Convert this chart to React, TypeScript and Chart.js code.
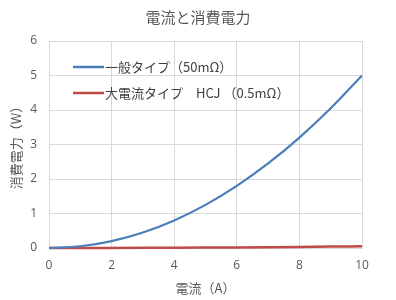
import React, { useEffect, useRef } from "react";
import { Chart, registerables } from "chart.js";
Chart.register(...registerables);

const currents = [0, 1, 2, 3, 4, 5, 6, 7, 8, 9, 10];
const generalType = [0, 0.05, 0.2, 0.45, 0.8, 1.25, 1.8, 2.45, 3.2, 4.05, 5.0];
const hcjType = [0, 0.0005, 0.002, 0.0045, 0.008, 0.0125, 0.018, 0.0245, 0.032, 0.0405, 0.05];
const seriesNames = ["一般タイプ（50mΩ）", "大電流タイプ　HCJ （0.5mΩ）"];
const titleText = "電流と消費電力";
const xTitle = "電流（A）";
const yTitle = "消費電力（W）";

const JP = "'Noto Sans CJK JP', 'Noto Sans', sans-serif";
const NUM = "'Open Sans', 'Noto Sans', sans-serif";

export default function App() {
  const ref = useRef<HTMLCanvasElement>(null);
  useEffect(() => {
    if (!ref.current) return;
    const colors = ["#4a7ebb", "#be4b48"];
    const overlay = {
      id: "overlay",
      afterDraw(chart: any) {
        const ctx = chart.ctx;
        const a = chart.chartArea;
        ctx.save();
        ctx.fillStyle = "#595959";
        ctx.textAlign = "center";
        ctx.textBaseline = "middle";
        ctx.font = `15px ${JP}`;
        ctx.fillText(titleText, 198, 17);
        ctx.font = `13px ${JP}`;
        ctx.fillText(xTitle, (a.left + a.right) / 2, 288);
        ctx.save();
        ctx.translate(16, (a.top + a.bottom) / 2);
        ctx.rotate(-Math.PI / 2);
        ctx.fillText(yTitle, 0, 0);
        ctx.restore();
        const rows = [67, 93];
        rows.forEach((y, i) => {
          ctx.strokeStyle = colors[i];
          ctx.lineWidth = 2.5;
          ctx.beginPath();
          ctx.moveTo(73, y);
          ctx.lineTo(104, y);
          ctx.stroke();
          ctx.fillStyle = "#404040";
          ctx.textAlign = "left";
          ctx.font = `13px ${JP}`;
          ctx.fillText(seriesNames[i], 105, y);
        });
        ctx.restore();
      },
    };
    const chart = new Chart(ref.current, {
      type: "line",
      data: {
        datasets: [
          {
            label: seriesNames[0],
            data: currents.map((x, i) => ({ x, y: generalType[i] })),
            borderColor: colors[0],
            borderWidth: 2.2,
            pointRadius: 0,
            clip: false,
            cubicInterpolationMode: "monotone",
          },
          {
            label: seriesNames[1],
            data: currents.map((x, i) => ({ x, y: hcjType[i] })),
            borderColor: colors[1],
            borderWidth: 2.5,
            pointRadius: 0,
            clip: false,
            cubicInterpolationMode: "monotone",
          },
        ],
      },
      options: {
        animation: false,
        responsive: false,
        layout: { padding: { top: 41, right: 34, left: 0, bottom: 0 } },
        plugins: { legend: { display: false }, title: { display: false }, tooltip: { enabled: false } },
        scales: {
          x: {
            type: "linear",
            min: 0,
            max: 10,
            ticks: { stepSize: 2, color: "#595959", font: { family: NUM, size: 12 }, padding: 10 },
            grid: { color: "#d9d9d9", drawTicks: false },
            border: { color: "#d9d9d9" },
            afterFit: (s: any) => { s.height = 52; },
          },
          y: {
            min: 0,
            max: 6,
            ticks: { stepSize: 1, color: "#595959", font: { family: NUM, size: 12 }, padding: 12 },
            grid: { color: "#d9d9d9", drawTicks: false },
            border: { color: "#d9d9d9" },
            afterFit: (s: any) => { s.width = 49; },
          },
        },
      },
      plugins: [overlay],
    } as any);
    return () => chart.destroy();
  }, []);
  return (
    <div style={{ position: "absolute", left: 0, top: 0, width: 396, height: 300, background: "#fff" }}>
      <canvas ref={ref} width={396} height={300} />
    </div>
  );
}
